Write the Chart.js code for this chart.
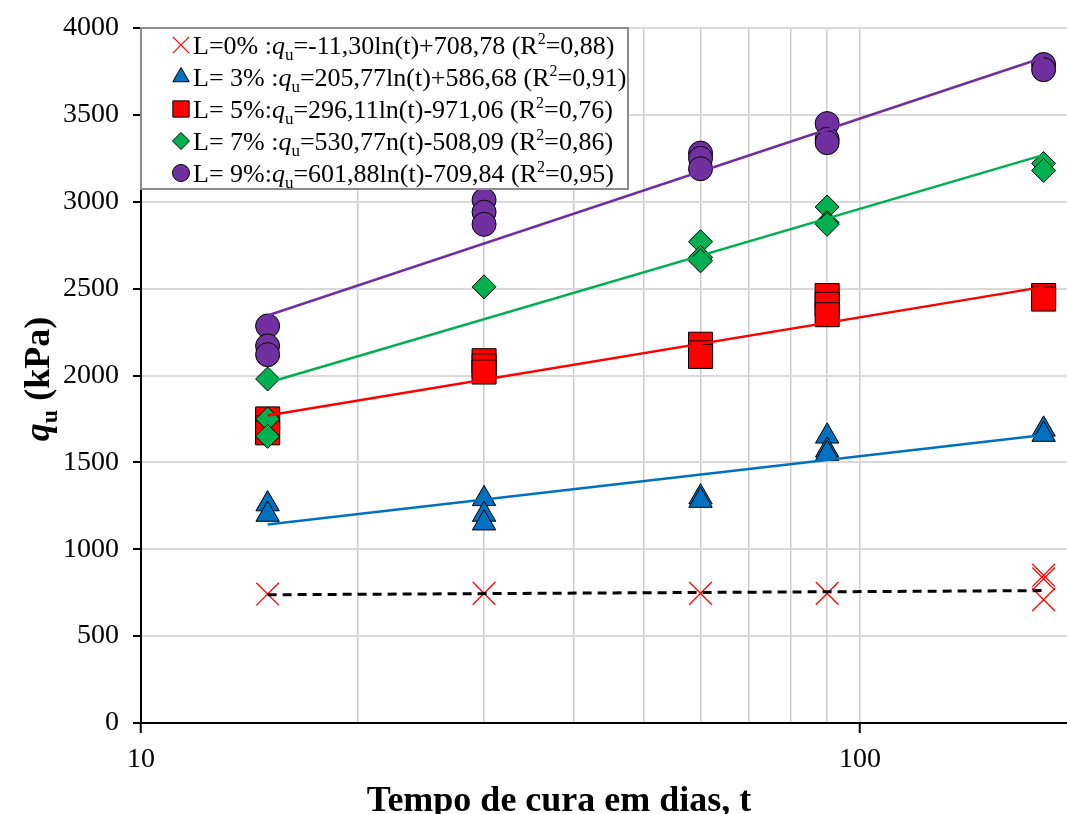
<!DOCTYPE html>
<html><head><meta charset="utf-8">
<script src="https://cdn.jsdelivr.net/npm/chart.js@4.4.0/dist/chart.umd.min.js"></script>
<style>html,body{margin:0;padding:0;background:#fff;overflow:hidden}#c{display:block}</style>
</head><body>
<canvas id="c" width="1067" height="814"></canvas>
<script>
// ---- data ----
const xTickLabels = [10, 100];
const yTickStep = 500;

const L0_t = [15, 30, 60, 90, 180, 180, 180];
const L0_q = [742, 746, 746, 746, 850, 830, 710];

const L3_t = [15, 15, 30, 30, 30, 60, 60, 90, 90, 90, 180, 180];
const L3_q = [1260, 1200, 1290, 1200, 1150, 1300, 1280, 1650, 1570, 1550, 1690, 1660];

const L5_t = [15, 15, 15, 30, 30, 30, 60, 60, 60, 90, 90, 90, 180, 180];
const L5_q = [1750, 1700, 1670, 2085, 2055, 2020, 2180, 2130, 2110, 2460, 2410, 2350, 2460, 2440];

const L7_t = [15, 15, 15, 30, 60, 60, 60, 90, 90, 90, 180, 180];
const L7_q = [1980, 1750, 1650, 2510, 2770, 2680, 2660, 2970, 2880, 2870, 3220, 3180];

const L9_t = [15, 15, 15, 30, 30, 30, 60, 60, 60, 90, 90, 90, 180, 180];
const L9_q = [2285, 2170, 2120, 3010, 2940, 2870, 3280, 3250, 3190, 3450, 3360, 3340, 3790, 3760];

const trend_t = [15, 180];
const T0 = [738, 762];
const T3 = [1143, 1658];
const T5 = [1770, 2510];
const T7 = [1958, 3270];
const T9 = [2345, 3830];

const legendPrefix = ['L=0% :', 'L= 3% :', 'L= 5%:', 'L= 7% :', 'L= 9%:'];
const legendEq = ['=-11,30ln(t)+708,78 (R', '=205,77ln(t)+586,68 (R', '=296,11ln(t)-971,06 (R', '=530,77n(t)-508,09 (R', '=601,88ln(t)-709,84 (R'];
const legendR2 = ['=0,88)', '=0,91)', '=0,76)', '=0,86)', '=0,95)'];
const xTitle = 'Tempo de cura em dias, t';
const yTitleVar = 'q', yTitleSub = 'u', yTitleRest = ' (kPa)';

// ---- build ----
const pts = (t, q) => t.map((v, i) => ({x: v, y: q[i]}));
const SERIF = '"Liberation Serif", "Times New Roman", serif';

const styles = [
  {pointStyle: 'crossRot', radius: 16, fill: '#FF0000', stroke: '#FF0000', bw: 1.3, lr: 11.5},
  {pointStyle: 'triangle', radius: 13.5, fill: '#0070C0', stroke: '#000', bw: 1, lr: 9.5},
  {pointStyle: 'rect', radius: 17, fill: '#FF0000', stroke: '#000', bw: 1, lr: 11.5},
  {pointStyle: 'rectRot', radius: 12, fill: '#00B050', stroke: '#000', bw: 1, lr: 8.5},
  {pointStyle: 'circle', radius: 12, fill: '#7030A0', stroke: '#000', bw: 1, lr: 8.5}
];
const seriesPts = [pts(L0_t, L0_q), pts(L3_t, L3_q), pts(L5_t, L5_q), pts(L7_t, L7_q), pts(L9_t, L9_q)];
const trends = [T0, T3, T5, T7, T9];
const lineColors = ['#000000', '#0070C0', '#FF0000', '#00B050', '#7030A0'];
const markerOrder = [1, 5, 4, 3, 2];

const datasets = [];
seriesPts.forEach((d, i) => {
  const s = styles[i];
  datasets.push({
    data: d, showLine: false, order: markerOrder[i], clip: false,
    pointStyle: s.pointStyle, pointRadius: s.radius, pointHoverRadius: s.radius,
    pointBackgroundColor: s.fill, pointBorderColor: s.stroke, pointBorderWidth: s.bw
  });
});
trends.forEach((tq, i) => {
  datasets.push({
    data: pts(trend_t, tq), showLine: true, order: 0, pointRadius: 0, pointHoverRadius: 0,
    borderColor: lineColors[i], borderWidth: i === 0 ? 3 : 2.5,
    borderDash: i === 0 ? [9, 6] : [], fill: false
  });
});

function drawMarker(ctx, s, x, y, r) {
  ctx.save();
  ctx.fillStyle = s.fill; ctx.strokeStyle = s.stroke; ctx.lineWidth = s.bw;
  if (Chart.helpers && Chart.helpers.drawPoint) {
    Chart.helpers.drawPoint(ctx, {pointStyle: s.pointStyle, radius: r, rotation: 0, borderWidth: s.bw}, x, y);
  }
  ctx.restore();
}

const textPlugin = {
  id: 'texts',
  afterDatasetsDraw(chart) {
    const ctx = chart.ctx;
    // legend box
    const bx = 141, by = 28, bw = 487, bh = 161;
    ctx.save();
    ctx.fillStyle = '#fff';
    ctx.fillRect(bx, by, bw, bh);
    ctx.strokeStyle = '#8c8c8c'; ctx.lineWidth = 2;
    ctx.strokeRect(bx, by, bw, bh);
    const fs = 26;
    for (let i = 0; i < 5; i++) {
      const cy = 45 + i * 32;
      drawMarker(ctx, styles[i], 181, cy, styles[i].lr);
      let x = 193;
      const base = cy + 9;
      ctx.fillStyle = '#000'; ctx.textBaseline = 'alphabetic'; ctx.textAlign = 'left';
      ctx.font = fs + 'px ' + SERIF;
      ctx.fillText(legendPrefix[i], x, base); x += ctx.measureText(legendPrefix[i]).width;
      ctx.font = 'italic ' + fs + 'px ' + SERIF;
      ctx.fillText('q', x, base); x += ctx.measureText('q').width;
      ctx.font = Math.round(fs * 0.65) + 'px ' + SERIF;
      ctx.fillText('u', x, base + 6); x += ctx.measureText('u').width;
      ctx.font = fs + 'px ' + SERIF;
      ctx.fillText(legendEq[i], x, base); x += ctx.measureText(legendEq[i]).width;
      ctx.font = Math.round(fs * 0.62) + 'px ' + SERIF;
      ctx.fillText('2', x, base - 10); x += ctx.measureText('2').width;
      ctx.font = fs + 'px ' + SERIF;
      ctx.fillText(legendR2[i], x, base);
    }
    // x title
    ctx.font = 'bold 36px ' + SERIF;
    ctx.textAlign = 'center'; ctx.textBaseline = 'alphabetic'; ctx.fillStyle = '#000';
    ctx.fillText(xTitle, 559, 811);
    // y title (rotated, q italic with subscript u)
    ctx.translate(49, 379);
    ctx.rotate(-Math.PI / 2);
    ctx.textAlign = 'left';
    const f1 = 'bold italic 36px ' + SERIF, f2 = 'bold 24px ' + SERIF, f3 = 'bold 36px ' + SERIF;
    ctx.font = f1; const w1 = ctx.measureText(yTitleVar).width;
    ctx.font = f2; const w2 = ctx.measureText(yTitleSub).width;
    ctx.font = f3; const w3 = ctx.measureText(yTitleRest).width;
    let x0 = -(w1 + w2 + w3) / 2;
    ctx.font = f1; ctx.fillText(yTitleVar, x0, 0); x0 += w1;
    ctx.font = f2; ctx.fillText(yTitleSub, x0, 8); x0 += w2;
    ctx.font = f3; ctx.fillText(yTitleRest, x0, 0);
    ctx.restore();
  }
};

new Chart(document.getElementById('c').getContext('2d'), {
  type: 'scatter',
  data: {datasets},
  options: {
    responsive: false, animation: false, devicePixelRatio: 1,
    layout: {autoPadding: false, padding: {top: 28, right: 0, left: 0, bottom: 0}},
    plugins: {legend: {display: false}, tooltip: {enabled: false}},
    scales: {
      x: {
        type: 'logarithmic', min: 10, max: 194,
        afterBuildTicks: s => { s.ticks = s.ticks.filter(t => t.value <= 100); },
        afterFit: s => { s.height = 91; s.paddingLeft = 0; s.paddingRight = 0; },
        border: {color: '#000', width: 2},
        grid: {
          color: c => (c.tick && c.tick.value > 10 && c.tick.value <= 100) ? '#cccccc' : 'rgba(0,0,0,0)',
          lineWidth: 1.5, drawTicks: true, tickLength: 10,
          tickColor: c => (c.tick && xTickLabels.includes(c.tick.value)) ? '#000' : 'rgba(0,0,0,0)',
          tickWidth: 2
        },
        ticks: {
          autoSkip: false, maxRotation: 0, minRotation: 0, padding: 10, color: '#000',
          font: {family: SERIF, size: 28},
          callback: v => xTickLabels.includes(v) ? String(v) : ''
        }
      },
      y: {
        min: 0, max: 4000,
        afterFit: s => { s.width = 141; s.paddingTop = 0; s.paddingBottom = 0; },
        border: {color: '#000', width: 2},
        grid: {color: '#d9d9d9', lineWidth: 2, drawTicks: true, tickLength: 8, tickColor: '#000', tickWidth: 2},
        ticks: {stepSize: yTickStep, padding: 14, color: '#000', font: {family: SERIF, size: 28},
          callback: v => String(v)}
      }
    }
  },
  plugins: [textPlugin]
});
</script>
</body></html>
